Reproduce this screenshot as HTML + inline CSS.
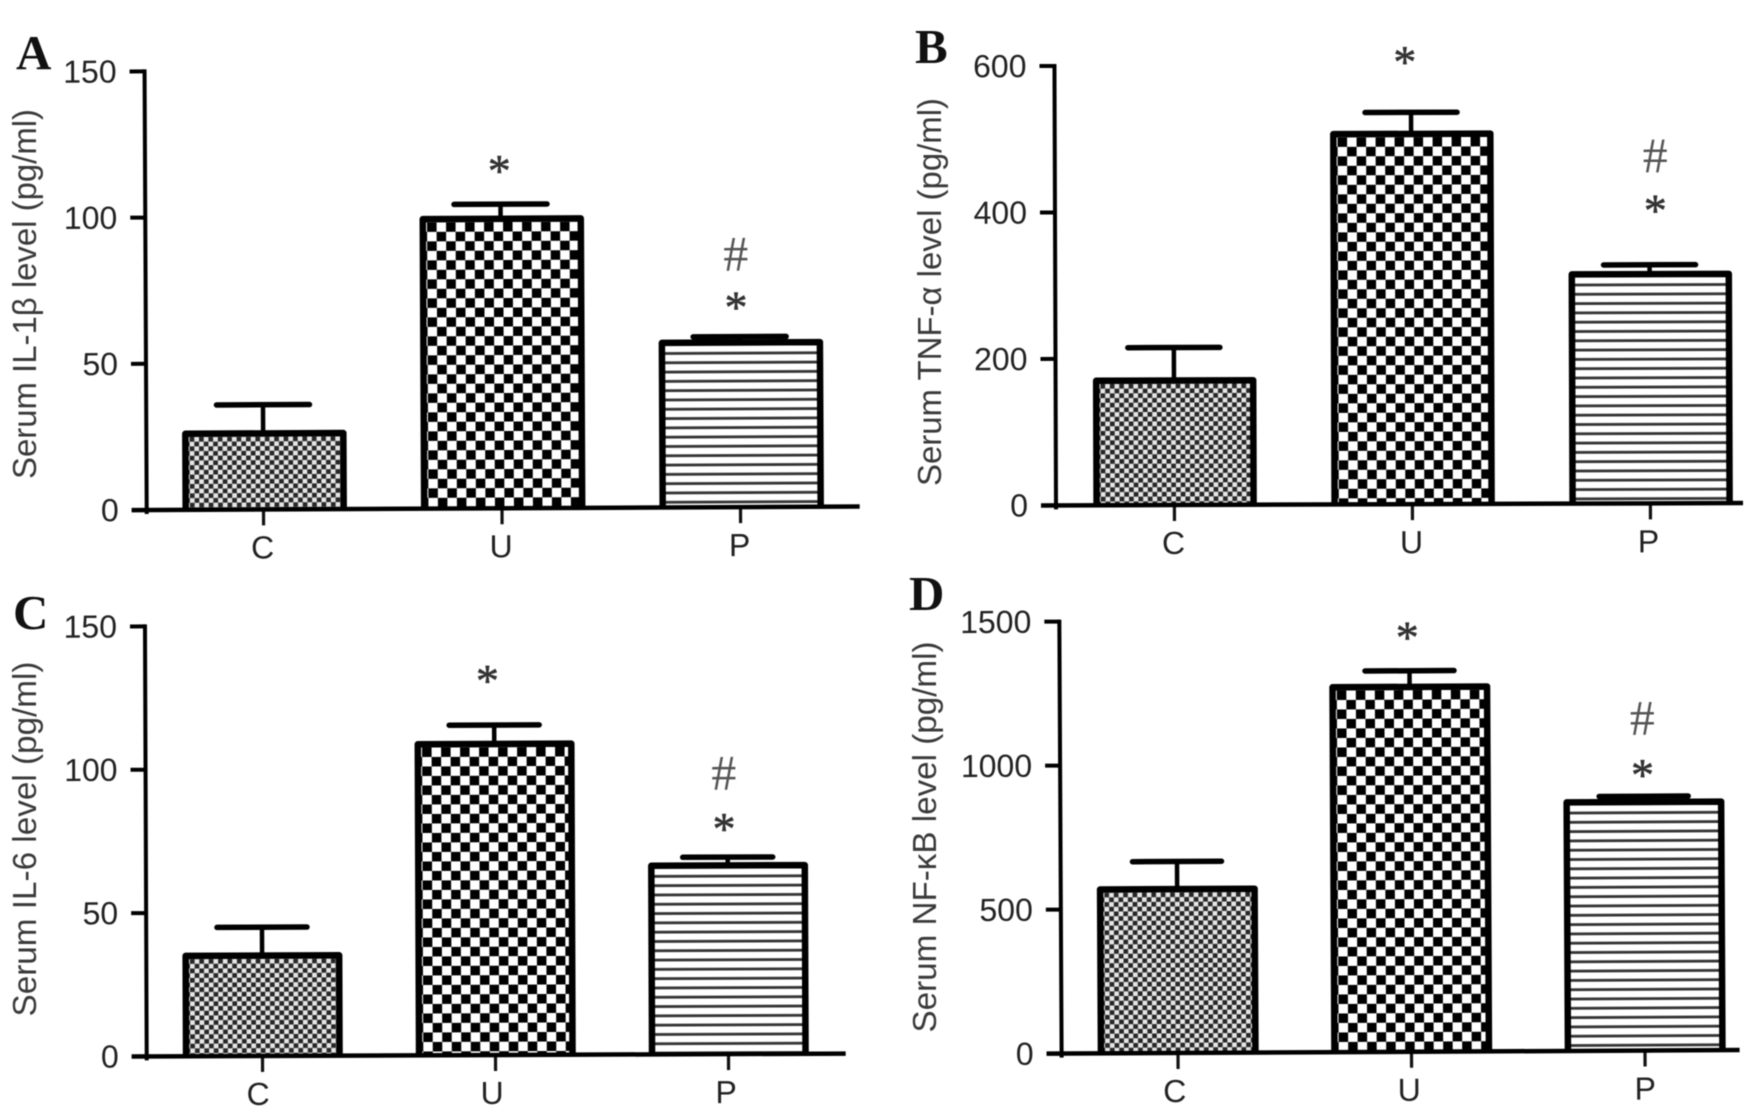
<!DOCTYPE html>
<html lang="en">
<head>
<meta charset="utf-8">
<title>Serum cytokine levels</title>
<style>
  html, body { margin: 0; padding: 0; background: #fff; }
  #figure { display: block; width: 1756px; height: 1120px; filter: blur(0.6px); }
  text { font-family: "Liberation Sans", "DejaVu Sans", sans-serif; }
  .letter { font-family: "Liberation Serif", serif; font-weight: bold; font-size: 49px; fill: #111; }
  .tick-label { font-size: 32px; fill: #222; }
  .y-title { font-size: 33px; fill: #3a3a3a; }
  .star { font-family: "Liberation Serif", serif; font-size: 46px; fill: #333; stroke: #333; stroke-width: 0.6px; text-anchor: middle; }
  .hash { font-family: "Liberation Serif", serif; font-size: 50px; fill: #555; text-anchor: middle; }
</style>
</head>
<body>
<svg id="figure" xmlns="http://www.w3.org/2000/svg" width="1756" height="1120" viewBox="0 0 1756 1120">
  <rect width="1756" height="1120" fill="#fff"/>
  <defs id="defs"></defs>
</svg>
<script>
const categories = ['C', 'U', 'P'];

const ticksA = [0, 50, 100, 150];
const meansA = [26, 99, 56.3];
const errorsA = [9.8, 5, 2];

const ticksB = [0, 200, 400, 600];
const meansB = [170, 505.6, 313];
const errorsB = [45, 29.4, 12.7];

const ticksC = [0, 50, 100, 150];
const meansC = [35, 108.5, 65.8];
const errorsC = [9.9, 6.6, 2.9];

const ticksD = [0, 500, 1000, 1500];
const meansD = [569, 1267, 863];
const errorsD = [96, 56, 20];

const panels = [
  { id: 'a', letter: 'A', letterX: 16, letterY: 69, title: 'Serum IL-1β level (pg/ml)', titleX: 36, titleY: 294, titleLen: 370,
    ox: 146.7, oy: 510, h: 438.6, xEnd: 713, first: 116.8, step: 238.5, bw: 164.5, barDx: 1.2, cap: 93, tilt: -0.28,
    ticks: ticksA, means: meansA, errors: errorsA, labelDx: [-1, -1, -1],
    starGaps: [null, 38, 34], hashGaps: [null, null, 82], markShift: [0, -1, -3.5] },
  { id: 'b', letter: 'B', letterX: 915, letterY: 63, title: 'Serum TNF-α level (pg/ml)', titleX: 941, titleY: 292, titleLen: 388,
    ox: 1056, oy: 505.4, h: 439.4, xEnd: 687, first: 118.4, step: 238, bw: 163.5, barDx: 0.7, cap: 92, tilt: -0.2,
    ticks: ticksB, means: meansB, errors: errorsB, labelDx: [-1, -1, -2],
    starGaps: [null, 55, 59], hashGaps: [null, null, 108.5], markShift: [0, -6, 6] },
  { id: 'c', letter: 'C', letterX: 13, letterY: 629, title: 'Serum IL-6 level (pg/ml)', titleX: 36, titleY: 839, titleLen: 355,
    ox: 146.7, oy: 1056.4, h: 430, xEnd: 699, first: 115.8, step: 233, bw: 160, barDx: 0.3, cap: 90, tilt: -0.23,
    ticks: ticksC, means: meansC, errors: errorsC, labelDx: [-4.5, -3.5, -2.5],
    starGaps: [null, 49, 33], hashGaps: [null, null, 83.5], markShift: [0, -6.5, -3.5] },
  { id: 'd', letter: 'D', letterX: 909, letterY: 610, title: 'Serum NF-κB level (pg/ml)', titleX: 936, titleY: 837, titleLen: 391,
    ox: 1061.6, oy: 1053.6, h: 432, xEnd: 678, first: 116.4, step: 233.5, bw: 161, barDx: 0.2, cap: 89, tilt: -0.3,
    ticks: ticksD, means: meansD, errors: errorsD, labelDx: [-3.5, -2.5, 0],
    starGaps: [null, 38, 26], hashGaps: [null, null, 77.4], markShift: [0, -2, -1] }
];

const SVG_NS = 'http://www.w3.org/2000/svg';
const svg = document.getElementById('figure');
const defs = document.getElementById('defs');

function make(tag, attrs, parent) {
  const e = document.createElementNS(SVG_NS, tag);
  for (const k in attrs) e.setAttribute(k, attrs[k]);
  parent.appendChild(e);
  return e;
}

function yScale(p) {
  const max = p.ticks[p.ticks.length - 1];
  return function (v) { return -v / max * p.h; };
}

function xCenter(p, i) {
  return p.first + i * p.step;
}

function addPattern(pid, kind, x, y) {
  const sizes = { C: 9.4, U: 19, P: 9.3 };
  const s = sizes[kind];
  const light = kind === 'C' ? '#e6e6e6' : '#fff';
  const dark = kind === 'C' ? '#262626' : '#000';
  const pat = make('pattern', { id: pid, patternUnits: 'userSpaceOnUse', x: x, y: y, width: s, height: s }, defs);
  make('rect', { width: s, height: s, fill: light }, pat);
  if (kind === 'P') {
    make('rect', { x: 0, y: 6, width: s, height: 2.8, fill: '#333' }, pat);
  } else {
    make('rect', { x: 0, y: 0, width: s / 2, height: s / 2, fill: dark }, pat);
    make('rect', { x: s / 2, y: s / 2, width: s / 2, height: s / 2, fill: dark }, pat);
  }
}

panels.forEach(function (p) {
  const panel = make('g', {}, svg);
  
  

  const letter = make('text', { x: p.letterX, y: p.letterY, class: 'letter' }, panel);
  letter.textContent = p.letter;
  
  

  const title = make('text', {
    class: 'y-title', 'text-anchor': 'middle', textLength: p.titleLen, lengthAdjust: 'spacingAndGlyphs',
    transform: 'translate(' + p.titleX + ' ' + p.titleY + ') rotate(-90)'
  }, panel);
  title.textContent = p.title;
  
  

  const plot = make('g', { transform: 'translate(' + p.ox + ' ' + p.oy + ') rotate(' + p.tilt + ')' }, panel);
  
  

  const y = yScale(p);
  const sw = 6.5;

  categories.forEach(function (cat, i) {
    const c = xCenter(p, i);
    const topY = y(p.means[i]);
    const errY = y(p.means[i] + p.errors[i]);

    const stem = make('line', { x1: c, x2: c, y1: topY, y2: errY, stroke: '#000', 'stroke-width': 4.5 }, plot);
    
    

    const cap = make('line', { x1: c - p.cap / 2, x2: c + p.cap / 2, y1: errY, y2: errY, stroke: '#000', 'stroke-width': 5.5, 'stroke-linecap': 'round' }, plot);
    
    

    const bx = c + p.barDx - p.bw / 2 + sw / 2;
    const pid = 'fill-' + p.id + '-' + cat;
    addPattern(pid, cat, bx + sw / 2 + 1, topY + sw / 2);
    const bar = make('path', {
      d: 'M' + bx + ' 0V' + topY + 'H' + (bx + p.bw - sw) + 'V0',
      fill: 'url(#' + pid + ')', stroke: '#000', 'stroke-width': sw, 'stroke-linejoin': 'round'
    }, plot);
    
    

    const xt = make('line', { x1: c, x2: c, y1: 0, y2: 16, stroke: '#111', 'stroke-width': 3.2 }, plot);
    
    

    const xl = make('text', { x: c + p.labelDx[i], y: 49, class: 'tick-label', 'text-anchor': 'middle' }, plot);
    xl.textContent = cat;
    
    

    if (p.starGaps[i] !== null) {
      const sy = errY - p.starGaps[i];
      const star = make('text', { x: c + p.markShift[i], y: sy + 20, class: 'star' }, plot);
      star.textContent = '*';
      
      
    }
    if (p.hashGaps[i] !== null) {
      const hy = errY - p.hashGaps[i];
      const hash = make('text', { x: c + p.markShift[i], y: hy + 16, class: 'hash' }, plot);
      hash.textContent = '#';
      
      
    }
  });

  const yAxis = make('line', { x1: 0, x2: 0, y1: 2, y2: -p.h, stroke: '#000', 'stroke-width': 4, 'stroke-linecap': 'square' }, plot);
  
  

  const xAxis = make('line', { x1: -15, x2: p.xEnd, y1: 0, y2: 0, stroke: '#000', 'stroke-width': 4.5 }, plot);
  
  

  p.ticks.forEach(function (t) {
    const ty = y(t);
    const tick = make('line', { x1: -15, x2: 0, y1: ty, y2: ty, stroke: '#000', 'stroke-width': 4 }, plot);
    
    

    const label = make('text', { x: -28, y: ty + 11, class: 'tick-label', 'text-anchor': 'end' }, plot);
    label.textContent = String(t);
    
    
  });
});
</script>
</body>
</html>
